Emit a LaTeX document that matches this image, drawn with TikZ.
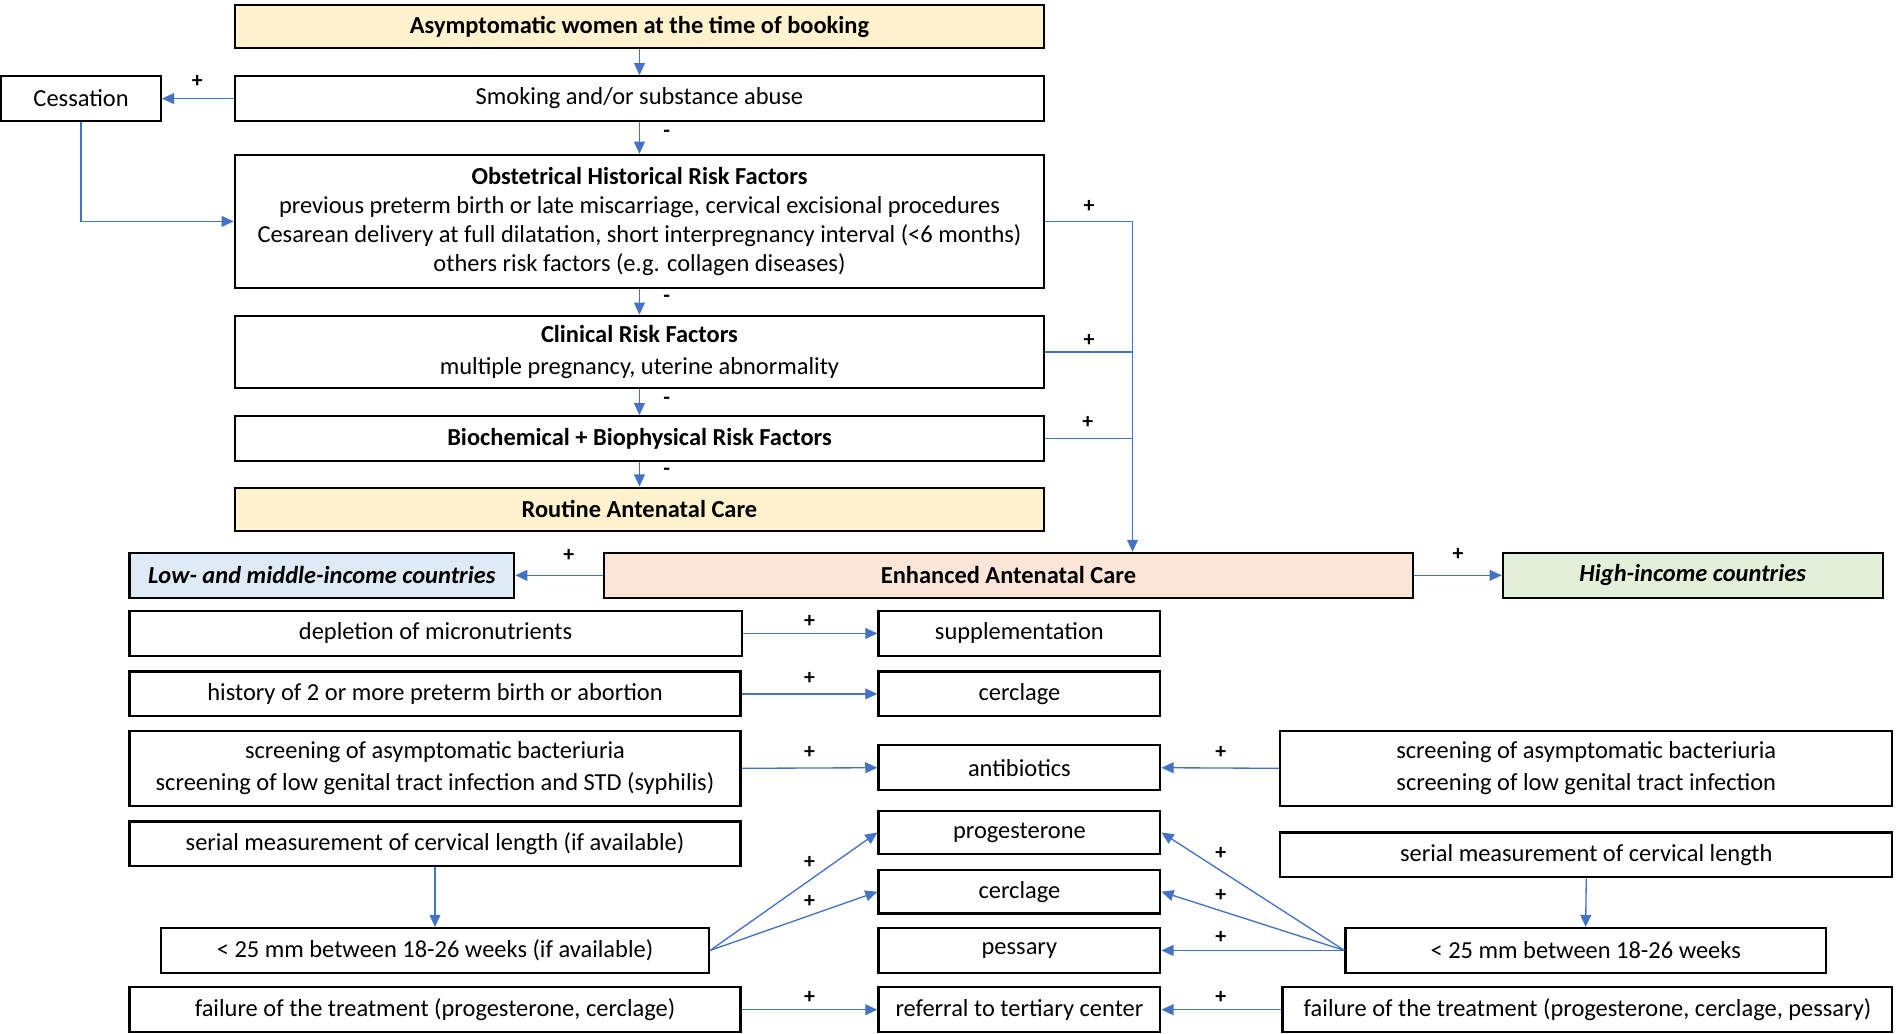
\documentclass[tikz,border=0pt]{standalone}
\usepackage{fontspec}
\setmainfont{Carlito}
\usetikzlibrary{arrows.meta}
\definecolor{cyel}{HTML}{FFF2CC}
\definecolor{cpeach}{HTML}{FBE5D6}
\definecolor{cblue}{HTML}{DEEBF7}
\definecolor{cgreen}{HTML}{E2F0D9}
\definecolor{carr}{HTML}{4472C4}
\newcommand\bx[7]{\node[box,#6,minimum width={(#4-#2)*0.5pt},minimum height={(#5-#3)*0.5pt}] (#1) at ({(#2+#4)/2},{(#3+#5)/2}) {#7};}
\begin{document}
\begin{tikzpicture}[x=0.5pt,y=-0.5pt,
  box/.style={draw=black,line width=0.9pt,inner sep=0pt,align=center,font=\fontsize{10.1pt}{12pt}\selectfont},
  arr/.style={draw=carr,line width=0.55pt,-{Triangle[length=5pt,width=4.5pt]}},
  ln/.style={draw=carr,line width=0.55pt},
  sg/.style={font=\fontsize{9pt}{10pt}\selectfont\bfseries,inner sep=0pt}]
\useasboundingbox (0,0) rectangle (1567,854);
% top stack
\bx{top}{194}{4}{863}{40}{fill=cyel}{\textbf{Asymptomatic women at the time of booking}}
\bx{smoke}{194}{63}{863}{100}{}{Smoking and/or substance abuse}
\bx{cess}{1}{63}{133}{100}{}{Cessation}
\bx{obs}{194}{128}{863}{238}{}{\textbf{Obstetrical Historical Risk Factors}\\previous preterm birth or late miscarriage, cervical excisional procedures\\Cesarean delivery at full dilatation, short interpregnancy interval (<6 months)\\others risk factors (e.g. collagen diseases)}
\bx{clin}{194}{261}{863}{321}{}{\textbf{Clinical Risk Factors}\\[1pt]multiple pregnancy, uterine abnormality}
\bx{bio}{194}{344}{863}{381}{}{\textbf{Biochemical + Biophysical Risk Factors}}
\bx{rout}{194}{403}{863}{439}{fill=cyel}{\textbf{Routine Antenatal Care}}
\bx{low}{107}{457}{425}{494}{fill=cblue}{\textbf{\itshape Low- and middle-income countries}}
\bx{enh}{499}{457}{1168}{494}{fill=cpeach}{\textbf{Enhanced Antenatal Care}}
\bx{high}{1242}{457}{1556}{494}{fill=cgreen}{\textbf{\itshape High-income countries}}
% lower part
\bx{depl}{107}{505}{613}{542}{}{depletion of micronutrients}
\bx{supp}{726}{505}{959}{542}{}{supplementation}
\bx{hist}{107}{555}{612}{592}{}{history of 2 or more preterm birth or abortion}
\bx{cer1}{726}{555}{959}{592}{}{cerclage}
\bx{scrL}{107}{604}{612}{666}{}{screening of asymptomatic bacteriuria\\[1pt]screening of low genital tract infection and STD (syphilis)}
\bx{anti}{726}{616}{959}{653}{}{antibiotics}
\bx{scrR}{1058}{604}{1564}{666}{}{screening of asymptomatic bacteriuria\\[1pt]screening of low genital tract infection}
\bx{serL}{107}{679}{612}{716}{}{serial measurement of cervical length (if available)}
\bx{prog}{726}{670}{959}{706}{}{progesterone}
\bx{cer2}{726}{719}{959}{755}{}{cerclage}
\bx{pess}{726}{767}{959}{804}{}{pessary}
\bx{serR}{1058}{688}{1564}{725}{}{serial measurement of cervical length}
\bx{lenL}{133}{767}{586}{804}{}{< 25 mm between 18-26 weeks (if available)}
\bx{lenR}{1112}{767}{1509}{804}{}{< 25 mm between 18-26 weeks}
\bx{failL}{107}{816}{612}{853}{}{failure of the treatment (progesterone, cerclage)}
\bx{refr}{726}{816}{959}{853}{}{referral to tertiary center}
\bx{failR}{1060}{816}{1564}{853}{}{failure of the treatment (progesterone, cerclage, pessary)}
% connectors top
\draw[arr] (top) -- (smoke);
\draw[arr] (smoke) -- (obs);
\draw[arr] (obs) -- (clin);
\draw[arr] (clin) -- (bio);
\draw[arr] (bio) -- (rout);
\draw[arr] (smoke.west) -- (cess.east);
\draw[arr] (cess.south) |- (obs.west);
\coordinate (bus) at (936,183);
\draw[arr] (obs.east) -| (bus |- enh.north);
\draw[ln] (clin.east) -- (clin.east -| bus);
\draw[ln] (bio.east) -- (bio.east -| bus);
\draw[arr] (enh.west) -- (low.east);
\draw[arr] (enh.east) -- (high.west);
% connectors bottom
\draw[arr] (depl.east) -- (supp.west);
\draw[arr] (hist.east) -- (cer1.west);
\draw[arr] (scrL.east) -- (anti.west);
\draw[arr] (scrR.west) -- (anti.east);
\draw[arr] (serL.south) -- (lenL.north);
\draw[arr] (serR.south) -- (lenR.north);
\draw[arr] (lenL.east) -- (prog.west);
\draw[arr] (lenL.east) -- (cer2.west);
\draw[arr] (lenR.west) -- (prog.east);
\draw[arr] (lenR.west) -- (cer2.east);
\draw[arr] (lenR.west) -- (pess.east);
\draw[arr] (failL.east) -- (refr.west);
\draw[arr] (failR.west) -- (refr.east);
% signs
\node[sg] (s1) at (163,67) {+};
\node[sg] (s2) at (551,111) {-};
\node[sg] (s3) at (551,247) {-};
\node[sg] (s4) at (551,331) {-};
\node[sg] (s5) at (551,390) {-};
\node[sg] (s6) at (900,171) {+};
\node[sg] (s7) at (900,281) {+};
\node[sg] (s8) at (899,349) {+};
\node[sg] (s9) at (470,459) {+};
\node[sg] (s10) at (1205,458) {+};
\node[sg] (s11) at (669,514) {+};
\node[sg] (s12) at (669,561) {+};
\node[sg] (s13) at (669,622) {+};
\node[sg] (s14) at (1009,622) {+};
\node[sg] (s15) at (669,713) {+};
\node[sg] (s16) at (669,745) {+};
\node[sg] (s17) at (1009,705) {+};
\node[sg] (s18) at (1009,740) {+};
\node[sg] (s19) at (1009,775) {+};
\node[sg] (s20) at (669,824) {+};
\node[sg] (s21) at (1009,824) {+};
\end{tikzpicture}
\end{document}
